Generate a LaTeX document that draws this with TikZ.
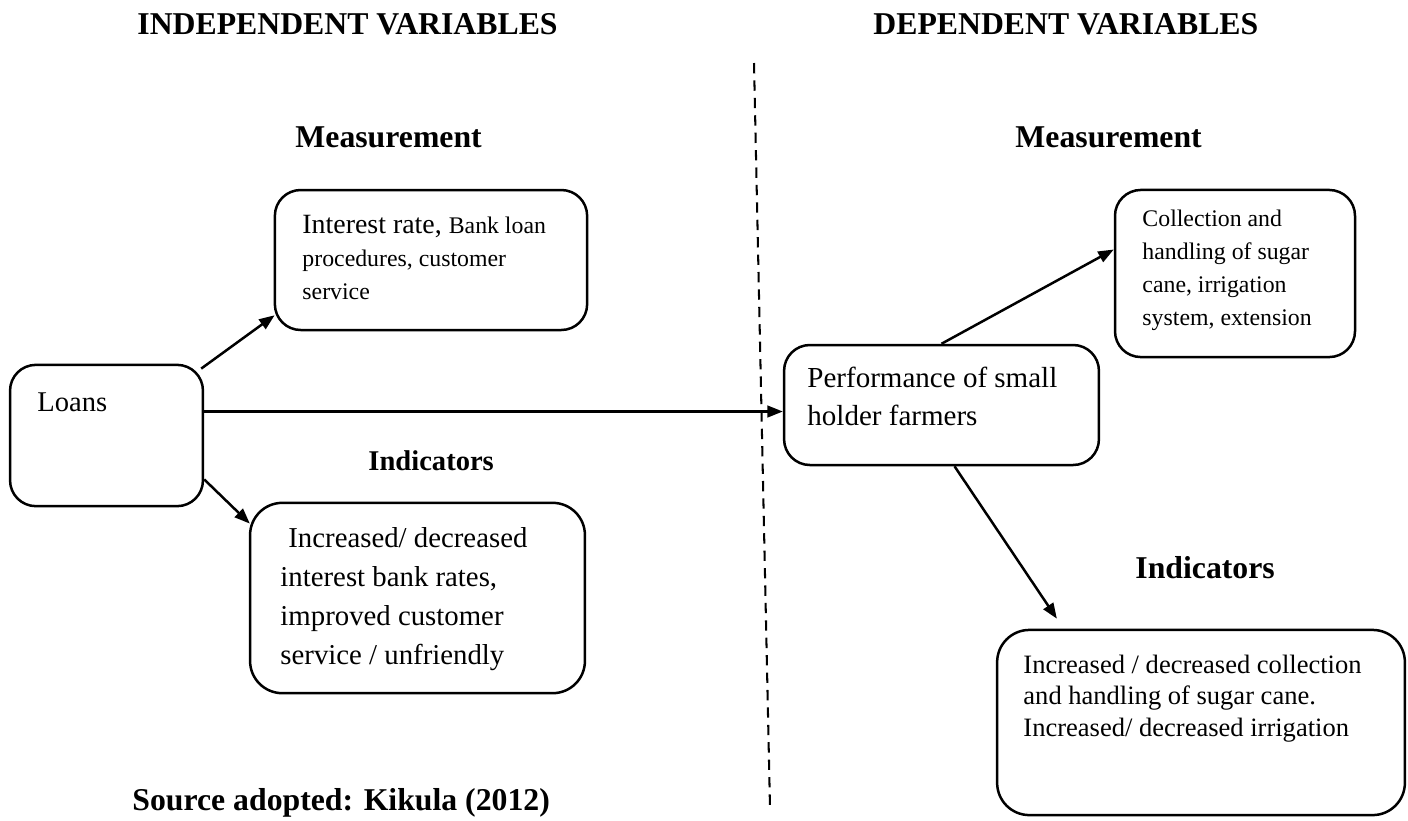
\documentclass[tikz,border=0pt]{standalone}
\usepackage{fontspec}
\setmainfont{Liberation Serif}
\usetikzlibrary{arrows.meta,calc}

\begin{document}
\begin{tikzpicture}[
  x=0.155mm, y=-0.155mm,
  box/.style={draw, rounded corners=4mm, line width=1.1pt, inner sep=0pt},
  txt/.style={anchor=north west, inner sep=0pt, align=left},
  head/.style={anchor=base west, inner sep=0pt, font=\bfseries\fontsize{14}{16}\selectfont},
  arrow/.style={-{Triangle[length=2.4mm,width=1.8mm]}, line width=1.1pt},
  divider/.style={line width=0.9pt, dash pattern=on 1.6mm off 1.1mm}
]
  \useasboundingbox (0,0) rectangle (1408,820);

  % headings
  \node[head] (indep) at (137,34) {INDEPENDENT VARIABLES};
  \node[head] (dep) at (873,34) {DEPENDENT VARIABLES};
  \node[head] (measl) at (295,147) {Measurement};
  \node[head] (measr) at (1015,147) {Measurement};
  \node[head, font=\bfseries\fontsize{12.6}{15}\selectfont] (indlab) at (368,470) {Indicators};
  \node[head] (indrlab) at (1135,578) {Indicators};
  \node[head] (source) at (132,810) {Source adopted: Kikula (2012)};

  % boxes
  \node[box, minimum width=29.9mm, minimum height=21.9mm] (loans) at (106.5,435.5) {};
  \node[box, minimum width=48.4mm, minimum height=21.7mm] (rate) at (431,260) {};
  \node[box, rounded corners=5mm, minimum width=51.9mm, minimum height=29.5mm] (indl) at (417.5,598) {};
  \node[box, minimum width=48.8mm, minimum height=18.6mm] (perf) at (941.5,405) {};
  \node[box, minimum width=37.2mm, minimum height=25.9mm] (coll) at (1235,273.5) {};
  \node[box, rounded corners=5mm, minimum width=63.2mm, minimum height=28.7mm] (indr) at (1201,722.5) {};

  % box texts
  \node[txt, anchor=base west, font=\fontsize{12.6}{17}\selectfont] (loanst) at (37,411) {Loans};
  \node[txt, font=\fontsize{12.3}{14.5}\selectfont] (ratet) at (302,215)
    {Interest rate, {\fontsize{10.5}{14.5}\selectfont Bank loan}\\
     {\fontsize{10.5}{14.5}\selectfont procedures, customer}\\
     {\fontsize{10.5}{14.5}\selectfont service}};
  \node[txt, font=\fontsize{12.7}{17.2}\selectfont] (indlt) at (280,527)
    {\hspace*{3.5pt}Increased/ decreased\\ interest bank rates,\\ improved customer\\ service / unfriendly};
  \node[txt, font=\fontsize{12.8}{16.8}\selectfont] (perft) at (807,367)
    {Performance of small\\ holder farmers};
  \node[txt, font=\fontsize{10.5}{14.5}\selectfont] (collt) at (1142,210)
    {Collection and\\ handling of sugar\\ cane, irrigation\\ system, extension};
  \node[txt, font=\fontsize{11.7}{13.7}\selectfont] (indrt) at (1023,655)
    {Increased / decreased collection\\ and handling of sugar cane.\\ Increased/ decreased irrigation};

  % dividing line
  \coordinate (divtop) at (754,63);
  \coordinate (divbot) at (770,808);
  \draw[divider] (divtop) -- (divbot);

  % arrows
  \coordinate (loanout) at ($(loans.east)+(0,-24)$);
  \draw[arrow] ($(loans.north east)+(-3,5)$) -- ($(rate.south west)+(1,-16)$);
  \draw[arrow] (loanout) -- (loanout -| perf.west);
  \draw[arrow] ($(loans.south east)+(0,-28)$) -- ($(indl.north west)+(1,22)$);
  \draw[arrow] (perf.north) -- ($(coll.west)+(0,-24)$);
  \draw[arrow] ($(perf.south)+(13,0)$) -- ($(indr.north west)+(61,-10)$);
\end{tikzpicture}
\end{document}
